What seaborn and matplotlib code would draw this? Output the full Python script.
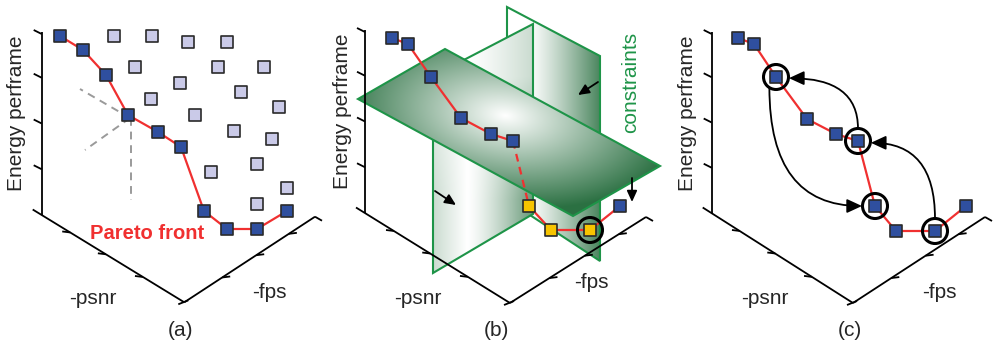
import numpy as np
import matplotlib
matplotlib.use("Agg")
import matplotlib.pyplot as plt
import seaborn as sns
from matplotlib.patches import Polygon, Circle, FancyArrowPatch

sns.set_theme(style="white")
plt.rcParams['font.family'] = ['Liberation Sans', 'DejaVu Sans']

# ---------------- data (projected diagram coordinates) ----------------
# panel (a)
a_front_x = [60, 83, 106, 128, 158, 181, 204, 227, 257, 287]
a_front_y = [36, 50, 75, 115, 132, 147, 211, 229, 229, 211]
a_other_x = [114, 152, 188, 227, 135, 218, 264, 180, 241, 151, 279, 195, 234, 272, 257, 211, 287, 257]
a_other_y = [36, 36, 42, 42, 67, 67, 67, 83, 92, 99, 107, 115, 131, 139, 164, 172, 188, 204]
a_guide_x = [[130, 80], [130, 85], [131, 131]]
a_guide_y = [[118, 89], [118, 150], [118, 200]]

# panel (b)
b_front_x = [392, 408, 431, 461, 491, 513]
b_front_y = [38, 44, 77, 118, 134, 141]
b_feas_x = [529, 551, 590]
b_feas_y = [206, 230, 230]
b_last_x = [620]
b_last_y = [206]
b_sel = (590, 230)

# panel (c)
c_front_x = [738, 754, 776, 807, 836, 858, 875, 896, 935, 966]
c_front_y = [38, 44, 77, 119, 134, 141, 206, 231, 231, 206]
c_selected = [2, 5, 6, 8]
# (from point, to point, leave angle on circle, arrive angle on circle, start direction)
c_moves = [(5, 2, -90, 5, 90), (8, 5, -90, 8, 90), (2, 6, 122, 180, -90)]

# axes geometry for each panel: origin, bottom vertex, fps end, top
panels = [
    dict(O=(41.7, 215), B=(184.3, 302.3), F=(315, 216.7), top=32,
         ylab=(17, 113), psnr=(93, 298), fps=(269.5, 292), tag=(180, 331), name="(a)"),
    dict(O=(365, 213), B=(510, 303), F=(646, 217), top=30,
         ylab=(342, 111), psnr=(417.5, 298), fps=(591, 283), tag=(496, 331), name="(b)"),
    dict(O=(711.7, 213), B=(853, 303), F=(985, 217), top=32,
         ylab=(687, 113), psnr=(765, 298), fps=(939.5, 292), tag=(850, 331), name="(c)"),
]

BLUE = "#2f4f9f"
LAV = "#cacae8"
YEL = "#f7c400"
EDGE = "#2a2a2a"
RED = "#f03030"
GREEN = "#1e9448"
DARKG = np.array([0.17, 0.44, 0.26])
R_CIRC = 12.5

fig = plt.figure(figsize=(9.97, 3.47), dpi=100)
ax = fig.add_axes([0, 0, 1, 1])
ax.set_xlim(0, 997)
ax.set_ylim(347, 0)
ax.axis('off')


def draw_axes(p):
    K = dict(color="black", lw=1.3, zorder=4, solid_capstyle='butt')
    ox, oy = p['O']; bx, by = p['B']; fx, fy = p['F']
    ax.plot([ox, ox], [p['top'], oy], **K)
    ax.plot([ox - 9, bx], [oy - 5.5, by], **K)
    ax.plot([bx, fx], [by, fy], **K)
    ax.plot([fx, fx + 7], [fy, fy + 4], **K)
    ax.plot([bx - 6, bx + 4], [by + 2, by - 2], **K)
    for k in range(1, 5):
        yk = oy - k * (oy - p['top']) / 4 + (2 if k == 4 else 0)
        ax.plot([ox, ox - 8], [yk, yk - 4], **K)
    for t in [0.2, 0.45, 0.71]:
        x = ox + t * (bx - ox); y = oy + t * (by - oy)
        ax.plot([x, x - 8], [y, y - 1], **K)
    for t in [0.29, 0.55, 0.8]:
        x = bx + t * (fx - bx); y = by + t * (fy - by)
        ax.plot([x, x + 8], [y, y - 1], **K)
    ax.text(*p['ylab'], "Energy perframe", rotation=90, ha='center', va='center', fontsize=15, zorder=8)
    ax.text(*p['psnr'], "-psnr", ha='center', va='center', fontsize=15, zorder=8)
    ax.text(*p['fps'], "-fps", ha='center', va='center', fontsize=15, zorder=8)
    ax.text(*p['tag'], p['name'], ha='center', va='center', fontsize=15, zorder=8)


def gradient_plane(verts, shade, z):
    xs = [v[0] for v in verts]; ys = [v[1] for v in verts]
    x0, x1, y0, y1 = min(xs), max(xs), min(ys), max(ys)
    X, Y = np.meshgrid(np.linspace(x0, x1, int(x1 - x0) * 2), np.linspace(y0, y1, int(y1 - y0) * 2))
    t = np.clip(shade(X, Y), 0, 1)[..., None]
    img = (1 - t) * np.ones(3) + t * DARKG
    im = ax.imshow(img, extent=(x0, x1, y1, y0), origin='upper', zorder=z, interpolation='bilinear')
    edge = Polygon(verts, closed=True, facecolor='none', edgecolor=GREEN, lw=1.5, zorder=z + 0.1,
                   joinstyle='miter')
    ax.add_patch(edge)
    im.set_clip_path(edge)


def squares(x, y, color, z=6, s=72):
    sns.scatterplot(x=x, y=y, marker='s', s=s, color=color, edgecolor=EDGE, linewidth=1.2,
                    ax=ax, zorder=z, legend=False)


def line(x, y, ls='-', z=5):
    sns.lineplot(x=x, y=y, sort=False, estimator=None, color=RED, lw=1.6, linestyle=ls,
                 ax=ax, zorder=z, legend=False)


for p in panels:
    draw_axes(p)

# ---------------- panel (a) ----------------
for gx, gy in zip(a_guide_x, a_guide_y):
    sns.lineplot(x=gx, y=gy, sort=False, estimator=None, color="#9a9a9a", lw=1.4,
                 linestyle=(0, (4, 3)), ax=ax, zorder=3)
line(a_front_x, a_front_y)
squares(a_other_x, a_other_y, LAV)
squares(a_front_x, a_front_y, BLUE)
ax.text(147, 233, "Pareto front", color=RED, fontsize=14.5, fontweight='bold',
        ha='center', va='center', zorder=8)

# ---------------- panel (b) ----------------
plane_A = [(507, 7), (600, 56), (600, 261), (507, 200)]
plane_B = [(433, 76), (533, 24), (533, 214), (433, 273)]
plane_C = [(358, 99), (445, 49), (660, 166), (573, 216)]


def shade_A(X, Y):
    return 0.85 * np.clip((X - 528) / 72, 0, 1) ** 1.2


def shade_B(X, Y):
    base = np.where(X < 467, 0.25 * (467 - X) / 34, 0.72 * np.clip((X - 467) / 66, 0, 1) ** 1.3)
    return base * np.clip((Y - 10) / 190, 0.35, 1.0)


def shade_C(X, Y):
    V0 = np.array([358, 99.]); E1 = np.array([87, -50.]); E2 = np.array([215.3, 116.7])
    M = np.array([[E1[0], E2[0]], [E1[1], E2[1]]])
    Mi = np.linalg.inv(M)
    dx = X - V0[0]; dy = Y - V0[1]
    a = Mi[0, 0] * dx + Mi[0, 1] * dy
    b = Mi[1, 0] * dx + Mi[1, 1] * dy
    d = np.sqrt(((b - 0.42) * 1.8) ** 2 + ((a - 0.65) * 0.9) ** 2)
    return 0.92 * d


gradient_plane(plane_A, shade_A, 1)
gradient_plane(plane_B, shade_B, 2)
gradient_plane(plane_C, shade_C, 3)

line(b_front_x, b_front_y)
line([b_front_x[-1], b_feas_x[0]], [b_front_y[-1], b_feas_y[0]], ls=(0, (3.5, 2.5)))
line(b_feas_x + b_last_x, b_feas_y + b_last_y)
squares(b_front_x + b_last_x, b_front_y + b_last_y, BLUE)
squares(b_feas_x, b_feas_y, YEL, s=64)
ax.add_patch(Circle(b_sel, R_CIRC, fill=False, ec='black', lw=2.2, zorder=7))

for (x0, y0, x1, y1) in [(598, 82, 578, 95), (435, 191, 456, 205), (632, 178, 632, 202)]:
    ax.annotate("", xy=(x1, y1), xytext=(x0, y0),
                arrowprops=dict(arrowstyle='-|>,head_length=0.55,head_width=0.25', color='black',
                                lw=1.3, shrinkA=0, shrinkB=0), zorder=7)
ax.text(631, 82, "constraints", rotation=90, color=GREEN, fontsize=15, ha='center', va='center', zorder=8)

# ---------------- panel (c) ----------------
line(c_front_x, c_front_y)
squares(c_front_x, c_front_y, BLUE)
for i in c_selected:
    ax.add_patch(Circle((c_front_x[i], c_front_y[i]), R_CIRC, fill=False, ec='black', lw=2.2, zorder=7))
for (i, j, a_out, a_in, dirA) in c_moves:
    sx = c_front_x[i] + R_CIRC * np.cos(np.radians(a_out))
    sy = c_front_y[i] + R_CIRC * np.sin(np.radians(a_out))
    ex = c_front_x[j] + (R_CIRC + 0.5) * np.cos(np.radians(a_in))
    ey = c_front_y[j] + (R_CIRC + 0.5) * np.sin(np.radians(a_in))
    arr = FancyArrowPatch((sx, sy), (ex, ey), connectionstyle=f"angle3,angleA={dirA},angleB=0",
                          arrowstyle='-|>,head_length=0.65,head_width=0.3', color='black', lw=1.3,
                          shrinkA=0, shrinkB=0, mutation_scale=14, zorder=7)
    ax.add_patch(arr)

ax.set_xlim(0, 997)
ax.set_ylim(347, 0)
ax.set_aspect('auto')
fig.savefig("out.png", dpi=100)
